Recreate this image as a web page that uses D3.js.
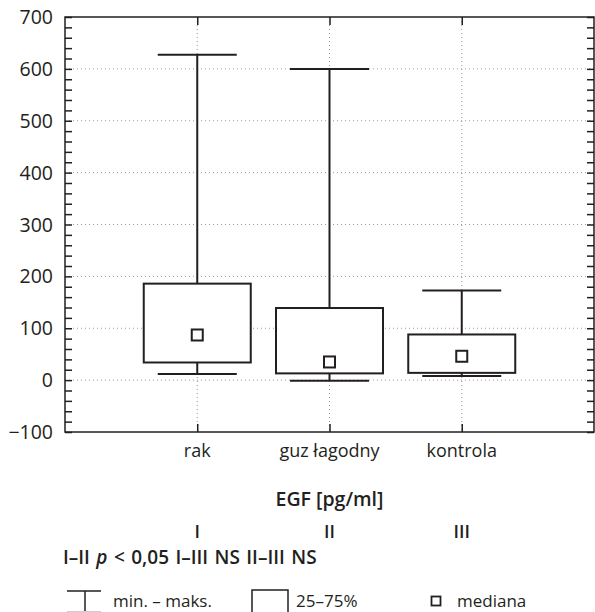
<html>

<head>
  <meta charset="utf-8">
  <script src="https://d3js.org/d3.v7.min.js"></script>
  <style>
    body {
      margin: 0;
      background: white;
    }

    text {
      font-family: "Open Sans", sans-serif;
      fill: #231f20;
    }

    .grid line {
      stroke: #999;
      stroke-width: 1;
      stroke-dasharray: 1 3;
    }
  </style>
</head>

<body>
  <svg width="595" height="612" id="egf"></svg>

  <script>
    // data
    const groups = ["rak", "guz \u0142agodny", "kontrola"];
    const mins = [12, -1, 8];
    const q1s = [34, 13, 14];
    const medians = [87, 35, 46];
    const q3s = [186, 139, 88];
    const maxs = [627, 600, 173];
    const yTicks = [-100, 0, 100, 200, 300, 400, 500, 600, 700];
    const groupNumbers = ["I", "II", "III"];

    const svg = d3.select("#egf");
    const ink = "#231f20";

    const plotLeft = 65, plotRight = 594, plotTop = 17, plotBottom = 432;

    const xScale = d3.scaleLinear().domain([0, 4]).range([plotLeft, plotRight]);
    const yScale = d3.scaleLinear().domain([-100, 700]).range([plotBottom, plotTop]);

    // dotted gridlines
    const grid = svg.append("g").attr("class", "grid");
    yTicks.filter(t => t > -100 && t < 700).forEach(t => {
      grid.append("line")
        .attr("x1", plotLeft).attr("x2", plotRight)
        .attr("y1", yScale(t)).attr("y2", yScale(t));
    });
    groups.forEach((g, i) => {
      grid.append("line")
        .attr("x1", xScale(i + 1)).attr("x2", xScale(i + 1))
        .attr("y1", plotTop).attr("y2", plotBottom);
    });

    // minor ticks every 20, inside on left and right
    const minor = d3.range(-100, 701, 20);
    let leftAxis = d3.axisRight(yScale).tickValues(minor).tickSize(7).tickFormat("");
    svg.append("g").attr("transform", `translate(${plotLeft},0)`).call(leftAxis);
    let rightAxis = d3.axisLeft(yScale).tickValues(minor).tickSize(7).tickFormat("");
    svg.append("g").attr("transform", `translate(${plotRight},0)`).call(rightAxis);

    // category ticks on top and bottom
    let bottomAxis = d3.axisTop(xScale).tickValues([1, 2, 3]).tickSize(8).tickFormat("");
    svg.append("g").attr("transform", `translate(0,${plotBottom})`).call(bottomAxis);
    let topAxis = d3.axisBottom(xScale).tickValues([1, 2, 3]).tickSize(8).tickFormat("");
    svg.append("g").attr("transform", `translate(0,${plotTop})`).call(topAxis);

    svg.selectAll(".domain").remove();
    svg.selectAll(".tick line").attr("stroke", ink).attr("stroke-width", 1.5);

    // frame
    svg.append("rect")
      .attr("x", plotLeft).attr("y", plotTop)
      .attr("width", plotRight - plotLeft).attr("height", plotBottom - plotTop)
      .attr("fill", "none").attr("stroke", ink).attr("stroke-width", 1.5);

    // y tick labels
    yTicks.forEach(t => {
      svg.append("text")
        .attr("x", 53)
        .attr("y", yScale(t))
        .attr("dy", "0.36em")
        .style("text-anchor", "end")
        .style("font-size", "19.5px")
        .text(t < 0 ? "\u2212" + Math.abs(t) : t);
    });

    // boxes
    const capHalf = 39.5, boxHalf = 53.5, medHalf = 5.5;
    groups.forEach((g, i) => {
      const cx = xScale(i + 1);
      svg.append("line")
        .attr("x1", cx).attr("x2", cx)
        .attr("y1", yScale(mins[i])).attr("y2", yScale(maxs[i]))
        .attr("stroke", ink).attr("stroke-width", 2);
      [mins[i], maxs[i]].forEach(v => {
        svg.append("line")
          .attr("x1", cx - capHalf).attr("x2", cx + capHalf)
          .attr("y1", yScale(v)).attr("y2", yScale(v))
          .attr("stroke", ink).attr("stroke-width", 2);
      });
      svg.append("rect")
        .attr("x", cx - boxHalf)
        .attr("y", yScale(q3s[i]))
        .attr("width", boxHalf * 2)
        .attr("height", yScale(q1s[i]) - yScale(q3s[i]))
        .attr("fill", "white").attr("stroke", ink).attr("stroke-width", 2);
      svg.append("rect")
        .attr("x", cx - medHalf)
        .attr("y", yScale(medians[i]) - medHalf)
        .attr("width", medHalf * 2).attr("height", medHalf * 2)
        .attr("fill", "white").attr("stroke", ink).attr("stroke-width", 2);

      // category label
      svg.append("text")
        .attr("x", cx).attr("y", 457)
        .style("text-anchor", "middle")
        .style("font-size", "18px")
        .text(g);

      // roman numeral
      svg.append("text")
        .attr("x", cx).attr("y", 537.5)
        .style("text-anchor", "middle")
        .style("font-size", "18px")
        .style("font-weight", 600)
        .text(groupNumbers[i]);
    });

    // axis title
    svg.append("text")
      .attr("x", xScale(2)).attr("y", 506)
      .style("text-anchor", "middle")
      .style("font-size", "19.5px")
      .style("font-weight", 600)
      .text("EGF [pg/ml]");

    // comparisons line
    const stat = svg.append("text")
      .attr("x", 63).attr("y", 564)
      .style("font-size", "19px")
      .style("font-weight", 600)
      .style("word-spacing", "1.5px");
    stat.append("tspan").text("I\u2013II ");
    stat.append("tspan").style("font-style", "italic").text("p");
    stat.append("tspan").text(" < 0,05 I\u2013III NS II\u2013III NS");

    // legend
    svg.append("line").attr("x1", 67).attr("x2", 101).attr("y1", 591).attr("y2", 591)
      .attr("stroke", ink).attr("stroke-width", 1.5);
    svg.append("line").attr("x1", 85).attr("x2", 85).attr("y1", 591).attr("y2", 612)
      .attr("stroke", ink).attr("stroke-width", 1.5);
    svg.append("line").attr("x1", 67).attr("x2", 101).attr("y1", 611.5).attr("y2", 611.5)
      .attr("stroke", "#ccc").attr("stroke-width", 1);
    svg.append("text").attr("x", 113).attr("y", 607).style("font-size", "17px").text("min. \u2013 maks.");

    svg.append("rect").attr("x", 252).attr("y", 590).attr("width", 36).attr("height", 30)
      .attr("fill", "none").attr("stroke", ink).attr("stroke-width", 1.5);
    svg.append("text").attr("x", 296).attr("y", 607).style("font-size", "17px").text("25\u201375%");

    svg.append("rect").attr("x", 431.5).attr("y", 596.5).attr("width", 9).attr("height", 9)
      .attr("fill", "white").attr("stroke", ink).attr("stroke-width", 1.8);
    svg.append("text").attr("x", 457).attr("y", 607).style("font-size", "17px").text("mediana");
  </script>
</body>

</html>
